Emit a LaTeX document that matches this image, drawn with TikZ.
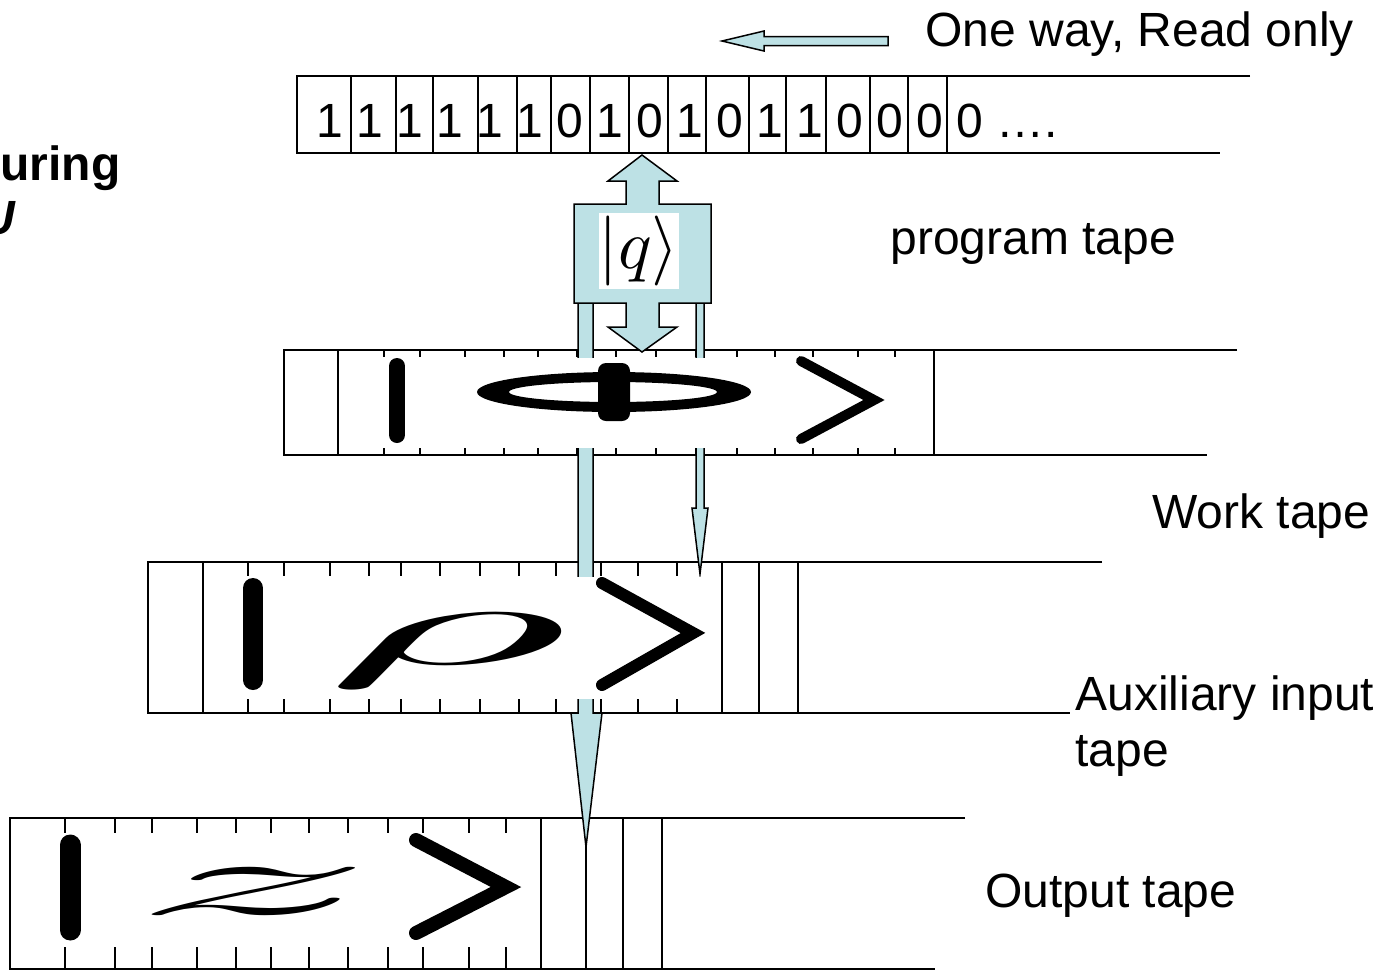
\documentclass[tikz,border=0pt]{standalone}
\usepackage{fontspec}
\setmainfont{Liberation Sans}
\usepackage{graphicx}
\usepackage{tikz}

\definecolor{headblue}{RGB}{189,225,229}

\tikzset{
	tapeline/.style={line width=1pt},
	blockarrow/.style={draw=black, line width=0.75pt, fill=headblue, line join=miter},
	ketbar/.style={line width=#1, line cap=round},
	ketangle/.style={line width=#1, line cap=round, line join=miter},
	tapelabel/.style={anchor=base west, inner sep=0pt, font=\fontsize{24}{28.5}\selectfont},
	band/.style={fill=white},
}

\begin{document}
\begin{tikzpicture}[x=0.5pt, y=-0.5pt]
			\useasboundingbox (0,0) rectangle (1388,971);

			% title, cut at the left border
			\node[tapelabel, font=\fontsize{24}{28.5}\selectfont\bfseries] (title) at (0,180) {uring};
			\node[anchor=base east, inner sep=0pt, font=\fontsize{24}{28.5}\selectfont\bfseries\itshape] (titlecut) at (16,234) {U};

			% program tape
			\draw[tapeline] (1250,76) -- (297,76) -- (297,153) -- (1220,153);
			\foreach \x in {351,396,433,478,517,551,590,629,668,706,749,786,826,870,908,947}
				\draw[tapeline] (\x,76) -- (\x,153);
			\node[tapelabel] (bits) at (316,137) {1 1 1 1 1 1 0 1 0 1 0 1 1 0 0 0 0 ….};

			% work tape
			\draw[tapeline] (1237,350) -- (284,350) -- (284,455) -- (1207,455);
			\foreach \x in {338,934}
				\draw[tapeline] (\x,350) -- (\x,455);
			\foreach \x in {384,420,465,504,538,577,616,656,696,737,775,813,858,895} {
				\draw[tapeline] (\x,350) -- ++(0,7);
				\draw[tapeline] (\x,455) -- ++(0,-7);
			}

			% auxiliary input tape
			\draw[tapeline] (1102,562) -- (148,562) -- (148,713) -- (1070,713);
			\foreach \x in {203,722,759,798}
				\draw[tapeline] (\x,562) -- (\x,713);
			\foreach \x in {248,284,330,369,401,440,480,519,556,601,638,677} {
				\draw[tapeline] (\x,562) -- ++(0,14);
				\draw[tapeline] (\x,713) -- ++(0,-14);
			}

			% output tape
			\draw[tapeline] (965,818) -- (10,818) -- (10,969) -- (935,969);
			\foreach \x in {541,586,623,662}
				\draw[tapeline] (\x,818) -- (\x,969);
			\foreach \x in {65,115,152,197,236,271,309,348,388,423,469,506} {
				\draw[tapeline] (\x,818) -- ++(0,15);
				\draw[tapeline] (\x,969) -- ++(0,-22);
			}

			% head with its legs down to the lower tapes
			\draw[blockarrow] (578,300) -- (578,713) -- (571,713) -- (586,847) -- (602,713) -- (593,713) -- (593,300);
			\draw[blockarrow] (696,300) -- (696,508) -- (692,508) -- (700,574) -- (708,508) -- (704,508) -- (704,300);
			\draw[blockarrow] (642,155) -- (677,181) -- (659,181) -- (659,204) -- (711,204) -- (711,303)
				-- (659,303) -- (659,327) -- (677,327) -- (642,352) -- (608,327) -- (626,327) -- (626,303)
				-- (574,303) -- (574,204) -- (626,204) -- (626,181) -- (608,181) -- cycle;
			\node[fill=white, inner sep=0pt, minimum width=38pt, minimum height=38pt] (q) at (639,251) {\scalebox{3.5}{$|q\rangle$}};

			% one way arrow
			\draw[blockarrow] (888,36.5) -- (764,36.5) -- (764,31) -- (722,41) -- (764,51) -- (764,45.5) -- (888,45.5) -- cycle;

			% cell contents
			\fill[band] (339,357.5) rectangle (933,447.5);
			\fill[band] (204,576.5) rectangle (721,698.5);
			\fill[band] (11,833.5) rectangle (540,946.5);

			\draw[ketbar=8pt] (397,366) -- (397,435);
			\fill[even odd rule] (614,392) ellipse [x radius=68.5pt, y radius=10pt]
				(613,392) ellipse [x radius=52pt, y radius=5pt];
			\fill[rounded corners=4pt] (598,363) rectangle (630,421);
			\draw[ketangle=5pt] (801,361) -- (874,400) -- (801,439);

			\draw[ketbar=10pt] (253,588) -- (253,680);
			\node[inner sep=0pt] (rho) at (447,650) {\resizebox*{122pt}{37pt}{$\rho$}};
			\draw[ketangle=6pt] (602,583) -- (693,633) -- (602,685);

			\draw[ketbar=10.5pt] (70,845) -- (70,930);
			\node[inner sep=0pt] (zeta) at (254,891) {\resizebox*{122pt}{23pt}{$z$}};
			\draw[ketangle=7pt] (416,840) -- (506,887) -- (416,933);

			% tape names
			\node[tapelabel] (oneway) at (925,46) {One way, Read only};
			\node[tapelabel] (progtape) at (890,254) {program tape};
			\node[tapelabel] (worktape) at (1152,528) {Work tape};
			\node[tapelabel] (auxtape) at (1075,710) {Auxiliary input};
			\node[tapelabel] (auxtape2) at (1075,766) {tape};
			\node[tapelabel] (outtape) at (985,907) {Output tape};
		\end{tikzpicture}
\end{document}
